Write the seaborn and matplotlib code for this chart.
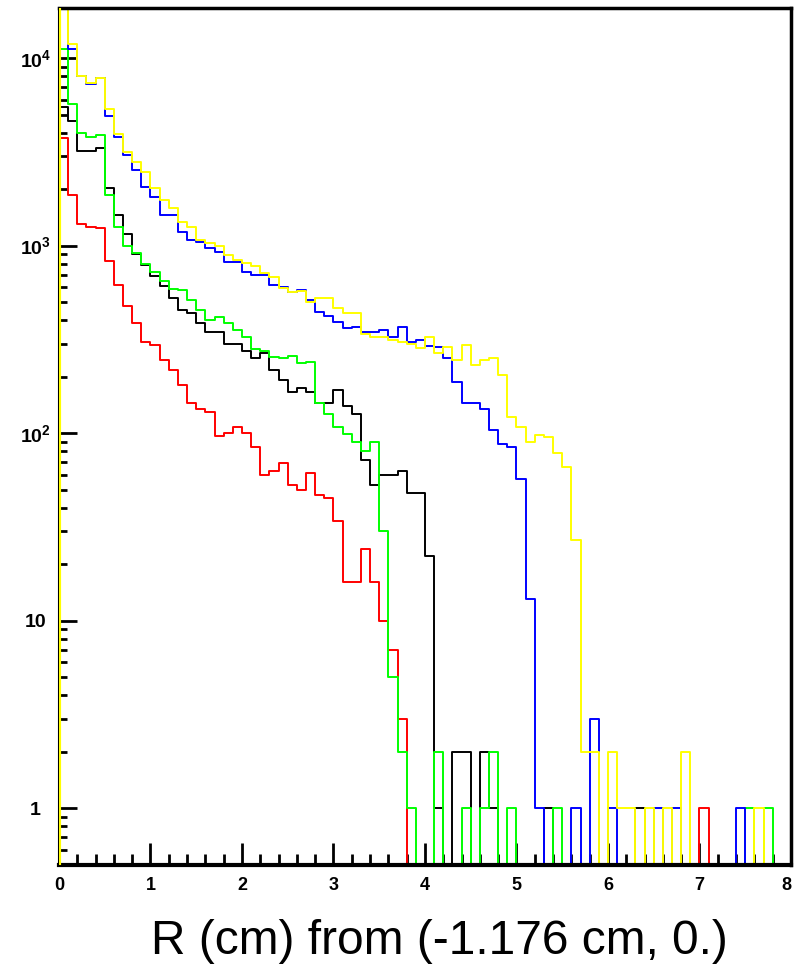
import numpy as np
import pandas as pd
import matplotlib
matplotlib.use("Agg")
import matplotlib.pyplot as plt
from matplotlib.ticker import MultipleLocator, LogLocator, FixedLocator, NullFormatter
import seaborn as sns

# 80 bins of 0.1 cm between 0 and 8 cm
r_min, r_max, n_bins = 0.0, 8.0, 80

black = [5500, 4600, 3200, 3200, 3300, 2030, 1460, 1150, 900, 790,
         690, 605, 525, 455, 435, 385, 347, 347, 297, 297,
         275, 250, 266, 217, 192, 166, 173, 166, 144, 144,
         169, 140, 127, 72, 53, 60, 60, 63, 48, 48,
         22, 1, 0, 2, 2, 0, 2, 1, 0, 0,
         0, 0, 0, 1, 0, 0, 0, 0, 0, 0,
         0, 0, 0, 1, 0, 0, 0, 0, 0, 0,
         0, 0, 0, 0, 0, 0, 0, 0, 0, 0]

red = [3730, 1860, 1310, 1260, 1240, 826, 615, 475, 385, 307,
       295, 245, 217, 180, 144, 135, 130, 97, 100, 108,
       100, 84, 60, 63, 69, 53, 50, 61, 47, 45,
       34, 16, 16, 24, 16, 10, 7, 3, 0, 0,
       0, 0, 0, 0, 0, 0, 0, 0, 0, 0,
       0, 0, 0, 0, 0, 0, 0, 0, 0, 0,
       0, 0, 0, 0, 0, 0, 0, 0, 0, 0,
       1, 0, 0, 0, 0, 0, 0, 0, 0, 0]

green = [11200, 5700, 3970, 3800, 3880, 1860, 1260, 1000, 910, 800,
         720, 650, 585, 580, 512, 453, 401, 417, 385, 354,
         326, 280, 275, 255, 250, 258, 235, 240, 145, 126,
         108, 99, 90, 80, 90, 30, 5, 2, 1, 0,
         0, 2, 0, 0, 1, 0, 1, 2, 0, 1,
         0, 0, 0, 0, 1, 0, 0, 0, 0, 0,
         0, 0, 0, 0, 0, 0, 0, 0, 0, 0,
         0, 0, 0, 0, 0, 1, 0, 1, 0, 0]

blue = [22000, 11200, 8000, 7300, 7800, 4900, 3800, 3040, 2530, 2060,
        1820, 1455, 1455, 1185, 1075, 1047, 966, 927, 820, 820,
        725, 696, 696, 615, 604, 567, 580, 512, 444, 420,
        391, 362, 370, 348, 348, 354, 326, 369, 307, 312,
        290, 288, 250, 188, 145, 145, 135, 104, 87, 84,
        57, 13, 1, 0, 0, 0, 1, 0, 3, 0,
        1, 0, 0, 0, 0, 1, 0, 1, 0, 0,
        0, 0, 0, 0, 1, 0, 0, 0, 0, 0]

yellow = [25000, 11900, 8050, 7400, 7800, 5340, 3960, 3160, 2800, 2480,
          2020, 1750, 1580, 1340, 1260, 1070, 1027, 1000, 890, 837,
          803, 776, 717, 682, 595, 567, 575, 502, 525, 525,
          464, 435, 435, 339, 326, 326, 312, 307, 300, 284,
          326, 268, 288, 245, 295, 232, 245, 251, 204, 122,
          108, 90, 98, 95, 78, 66, 27, 2, 2, 0,
          2, 1, 1, 0, 1, 0, 1, 0, 2, 0,
          0, 0, 0, 0, 0, 0, 1, 0, 0, 0]

x_ticks = [0, 1, 2, 3, 4, 5, 6, 7, 8]
y_ticks = [1, 10, 100, 1000, 10000]
y_tick_labels = ["1", "10", r"$\mathbf{10^{2}}$", r"$\mathbf{10^{3}}$", r"$\mathbf{10^{4}}$"]
x_label = "R (cm) from (-1.176 cm, 0.)"

edges = np.linspace(r_min, r_max, n_bins + 1)
centers = 0.5 * (edges[:-1] + edges[1:])

sns.set_theme(style="ticks")
plt.rcParams['font.family'] = ['Liberation Sans', 'DejaVu Sans']
plt.rcParams['mathtext.fontset'] = 'custom'
plt.rcParams['mathtext.rm'] = 'Liberation Sans'
plt.rcParams['mathtext.bf'] = 'Liberation Sans:bold'

fig = plt.figure(figsize=(7.94, 9.73), dpi=100)
ax = fig.add_axes([0.0743, 0.1110, 0.9219, 0.8808])

floor = 1e-3  # empty bins drop to the bottom of the log axis
for counts, col in [(black, 'black'), (red, '#ff0000'), (green, '#00ff00'),
                    (blue, '#0000ff'), (yellow, '#ffff00')]:
    df = pd.DataFrame({'r': centers,
                       'n': np.where(np.asarray(counts) > 0, counts, floor)})
    sns.histplot(data=df, x='r', weights='n', bins=n_bins,
                 binrange=(r_min, r_max), element='step',
                 fill=False, color=col, linewidth=1.4, ax=ax)

# leading edge of the last drawn histogram sits on the y axis
ax.vlines(edges[0], floor, yellow[0], color='#ffff00', linewidth=3.0, zorder=3)

ax.set_yscale('log')
ax.set_xlim(r_min, r_max)
ax.set_ylim(0.497, 1.85e4)

ax.set_xticks(x_ticks, [str(v) for v in x_ticks])
ax.xaxis.set_minor_locator(MultipleLocator(0.2))
ax.set_yticks(y_ticks, y_tick_labels)
ax.yaxis.set_minor_locator(LogLocator(base=10, subs=np.arange(2, 10)))
ax.yaxis.set_minor_formatter(NullFormatter())

ax.tick_params(axis='both', which='both', direction='in', top=False, right=False,
               bottom=True, left=True, colors='black', width=2)
ax.tick_params(axis='x', which='major', length=16, pad=9, labelsize=13)
ax.tick_params(axis='x', which='minor', length=8)
ax.tick_params(axis='y', which='major', length=13, pad=17, labelsize=14)
ax.tick_params(axis='y', which='minor', length=6)
xlabels = ax.get_xticklabels()
for lbl in xlabels:
    lbl.set_fontweight('bold')
xlabels[-1].set_horizontalalignment('right')  # keep the "8" inside the figure
for lbl in ax.get_yticklabels():
    lbl.set_fontweight('bold')
    lbl.set_horizontalalignment('center')

ax.set_ylabel('')
ax.set_xlabel(x_label, fontsize=34.5, color='black')
ax.xaxis.set_label_coords((439 - 59) / 732, (865 - 942) / 857)
ax.xaxis.label.set_verticalalignment('center')

for name, sp in ax.spines.items():
    sp.set_color('black')
ax.spines['bottom'].set_linewidth(3)
ax.spines['top'].set_linewidth(2.5)
ax.spines['right'].set_linewidth(2.5)
ax.spines['left'].set_linewidth(1.5)

fig.savefig('out.png', dpi=100)
